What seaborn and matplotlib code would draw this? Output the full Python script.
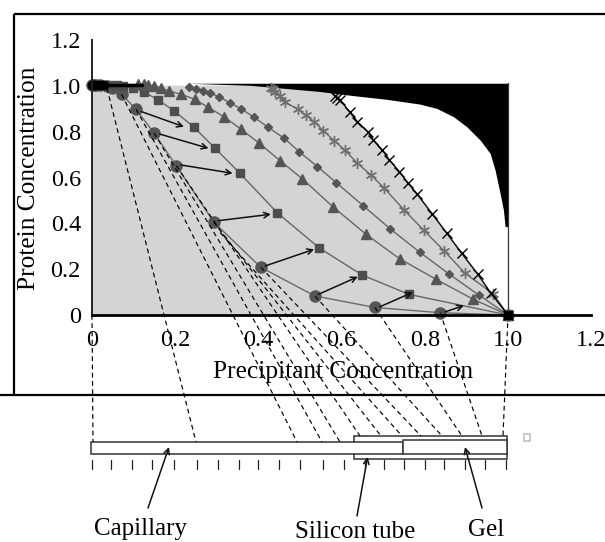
import matplotlib
matplotlib.use("Agg")
import matplotlib.pyplot as plt
from matplotlib.patches import Rectangle
import seaborn as sns
import pandas as pd

x_label = "Precipitant Concentration"
y_label = "Protein Concentration"
x_ticks = [0, 0.2, 0.4, 0.6, 0.8, 1.0, 1.2]
x_tick_labels = ["0", "0.2", "0.4", "0.6", "0.8", "1.0", "1.2"]
y_ticks = [0, 0.2, 0.4, 0.6, 0.8, 1.0, 1.2]
y_tick_labels = ["0", "0.2", "0.4", "0.6", "0.8", "1.0", "1.2"]

circle_x = [0, .005, .01, .02, .035, .049, .071, .106, .149, .203, .293, .406, .536, .680, .837, 1]
circle_y = [1.005, 1.005, 1.005, 1.005, 1.0, .99, .964, .898, .795, .651, .405, .208, .083, .033, .010, 0]
square_x = [.02, .04, .06, .075, .099, .125, .159, .197, .244, .296, .356, .445, .546, .649, .762, 1]
square_y = [1.005, 1.005, 1.005, 1.0, .991, .974, .939, .892, .822, .728, .618, .447, .293, .175, .090, 0]
triangle_x = [.11, .125, .135, .15, .167, .186, .214, .247, .279, .317, .358, .402, .452, .506, .579, .659, .740, .827, .915, 1]
triangle_y = [1.01, 1.01, 1.004, 1.0, .99, .978, .964, .942, .907, .866, .812, .750, .674, .594, .473, .352, .245, .156, .070, 0]
diamond_x = [.232, .25, .266, .284, .305, .331, .358, .390, .423, .462, .498, .542, .587, .652, .717, .788, .859, .930, 1]
diamond_y = [.997, .987, .979, .969, .953, .927, .901, .863, .820, .772, .713, .648, .578, .477, .376, .274, .178, .087, 0]
star_x = [.43, .435, .44, .452, .464, .494, .514, .534, .556, .582, .608, .638, .671, .703, .75, .797, .847, .897, .965, 1]
star_y = [.99, .985, .975, .956, .931, .898, .873, .844, .805, .761, .72, .662, .611, .553, .459, .371, .279, .182, .092, 0]
cross_x = [.585, .59, .596, .619, .638, .663, .676, .698, .715, .739, .759, .782, .818, .853, .889, .927, .959, 1]
cross_y = [.955, .948, .939, .888, .844, .800, .765, .72, .677, .626, .578, .527, .441, .357, .269, .179, .095, 0]

wedge_x = [.23, .38, .548, .628, .708, .788, .829, .869, .901, .933, .957, .969, .981, .989, .993, 1]
wedge_lower = [1.012, 1.003, .976, .958, .942, .921, .902, .866, .822, .764, .706, .633, .531, .459, .386, .386]
wedge_upper = [1.012] * len(wedge_x)

arrow_from_x = [.119, .163, .214, .304, .416, .544, .692, .849]
arrow_from_y = [.888, .79, .655, .412, .214, .09, .036, .014]
arrow_to_x = [.221, .280, .338, .43, .534, .639, .771, .894]
arrow_to_y = [.822, .728, .619, .44, .287, .167, .099, .041]

# where each dashed guide leaves the phase diagram (x, y) and lands on the tube (tube_x, in px)
guide_x = [0, .036, .071, .106, .149, .203, .293, .308, .406, .536, .680, .837, 1]
guide_y = [0, .99, .964, .898, .795, .651, .405, .36, .208, .083, .033, .010, 0]
guide_end_px = [93, 196, 297, 322, 340, 360, 381, 402, 421, 442, 462, 482, 503]
guide_end_top = [442, 442, 442, 442, 442, 436, 436, 436, 436, 436, 436, 436, 436]

ruler_px = [91.6, 111, 132, 152, 174, 197, 218, 239, 258, 279, 300, 323, 344, 365, 384, 404, 425, 444, 465, 485, 506]

sns.set_theme(style="white")
plt.rcParams["font.family"] = "Liberation Serif"
plt.rcParams["text.color"] = "black"

W, H = 605, 542
fig = plt.figure(figsize=(W / 100, H / 100), dpi=100, facecolor="white")
X0, Y0, SX, SY = 92, 315, 416, 229
ax = fig.add_axes([X0 / W, (H - Y0) / H, 1.2 * SX / W, 1.2 * SY / H])
ax.set_xlim(0, 1.2)
ax.set_ylim(0, 1.2)
ax.set_facecolor("none")
fx = lambda px: (px - X0) / SX
fy = lambda py: (Y0 - py) / SY

# shaded region under the black curve
ax.fill_between([0] + cross_x[2:], [1.004] * 1 + [min(1.004, v) for v in cross_y[2:]], 0, color="#d4d4d4", lw=0, zorder=1)
ax.fill_between([0, .44, .596], [1.004, 1.004, .972], [0, 0, 0], color="#d4d4d4", lw=0, zorder=1)
ax.fill_between(wedge_x, wedge_lower, wedge_upper, color="black", lw=0, zorder=2)

series = [
    (circle_x, circle_y, "o", 8, "#555555", "#6a6a6a"),
    (square_x, square_y, "s", 5.2, "#4d4d4d", "#666666"),
    (triangle_x, triangle_y, "^", 6.8, "#555555", "#666666"),
    (diamond_x, diamond_y, "D", 4.4, "#555555", "#666666"),
    (star_x, star_y, (6, 2, 0), 8, "#707070", "#666666"),
    (cross_x, cross_y, "x", 7.5, "black", "black"),
]
for sx, sy, m, ms, mc, lc in series:
    df = pd.DataFrame({"x": sx, "y": sy})
    sns.lineplot(data=df, x="x", y="y", ax=ax, sort=False, estimator=None, color=lc, lw=1.0,
                 marker=m, markersize=ms, markerfacecolor=mc, markeredgecolor=mc,
                 markeredgewidth=1.0, zorder=5, clip_on=False)

# black start and end markers
sns.scatterplot(x=[0, .005, .01, .02, .03], y=[1.005] * 5, ax=ax, s=50, color="black", zorder=6, clip_on=False, linewidth=0)
ax.plot([.03, .12], [1.005, 1.005], color="black", lw=2.5, zorder=6, clip_on=False)
ax.plot([1.0], [0], marker="s", ms=6, color="black", zorder=7, clip_on=False)
ax.plot([1, 1], [0, 1.012], color="#333333", lw=0.9, zorder=3)

for a, b, c, d in zip(arrow_from_x, arrow_from_y, arrow_to_x, arrow_to_y):
    ax.annotate("", xy=(c, d), xytext=(a, b), zorder=8,
                arrowprops=dict(arrowstyle="->", color="#111111", lw=1.1, shrinkA=0, shrinkB=0, mutation_scale=10))

# dashed guides
for gx, gy, ex, et in zip(guide_x, guide_y, guide_end_px, guide_end_top):
    ax.plot([gx, fx(ex)], [gy, fy(et)], color="black", lw=0.85, ls=(0, (4, 3)), zorder=6, clip_on=False)

# axes
for s in ("top", "right"):
    ax.spines[s].set_visible(False)
ax.spines["left"].set_color("#222222")
ax.spines["left"].set_linewidth(1.4)
ax.spines["bottom"].set_color("black")
ax.spines["bottom"].set_linewidth(2)
ax.spines["left"].set_zorder(9)
ax.spines["bottom"].set_zorder(9)
ax.set_xticks(x_ticks, x_tick_labels)
ax.set_yticks(y_ticks, y_tick_labels)
ax.tick_params(axis="x", direction="in", length=2, width=0.5, color="#aaaaaa", labelsize=17.5, pad=11, labelcolor="black")
ax.tick_params(axis="y", direction="out", length=3, width=0.8, color="#444444", labelsize=17.5, pad=5, labelcolor="black")
ax.set_xlabel("")
ax.set_ylabel("")
ax.text(fx(343), fy(372), x_label, fontsize=18.3, ha="center", va="center", clip_on=False)
ax.text(fx(29), fy(178), y_label, fontsize=18.3, rotation=90, ha="center", va="center", clip_on=False)

# outer frame
kw = dict(color="black", lw=1.6, clip_on=False, zorder=10, solid_capstyle="butt")
ax.plot([fx(14), fx(605)], [fy(14), fy(14)], **kw)
ax.plot([fx(14), fx(14)], [fy(14), fy(395)], **kw)
ax.plot([fx(0), fx(605)], [fy(395), fy(395)], **kw)

# tube diagram
def box(l, r, t, b, z):
    ax.add_patch(Rectangle((fx(l), fy(b)), fx(r) - fx(l), fy(t) - fy(b), fc="white", ec="#333333",
                           lw=1.1, clip_on=False, zorder=z))
box(354, 507, 436, 459, 4)
box(91.5, 403, 442, 453.5, 5)
box(403, 507, 439.5, 454, 5)
box(524.5, 530, 434, 441, 5)
ax.patches[-1].set_edgecolor("#bbbbbb")
for p in ruler_px:
    ax.plot([fx(p), fx(p)], [fy(460), fy(469)], color="#222222", lw=0.9, clip_on=False, zorder=5)

for t, h, tx, ty, ax0, ay0, ax1, ay1 in [
    ("Capillary", "center", 141, 529, 148, 508, 169, 447),
    ("Silicon tube", "center", 355, 532, 357, 516, 367.6, 457),
    ("Gel", "center", 486, 530, 482, 508, 465, 447),
]:
    ax.text(fx(tx), fy(ty), t, fontsize=18, ha=h, va="center", clip_on=False)
    ax.annotate("", xy=(fx(ax1), fy(ay1)), xytext=(fx(ax0), fy(ay0)), zorder=8, annotation_clip=False,
                arrowprops=dict(arrowstyle="->", color="#111111", lw=1.1, shrinkA=0, shrinkB=0, mutation_scale=10))

fig.savefig("out.png", dpi=100)
